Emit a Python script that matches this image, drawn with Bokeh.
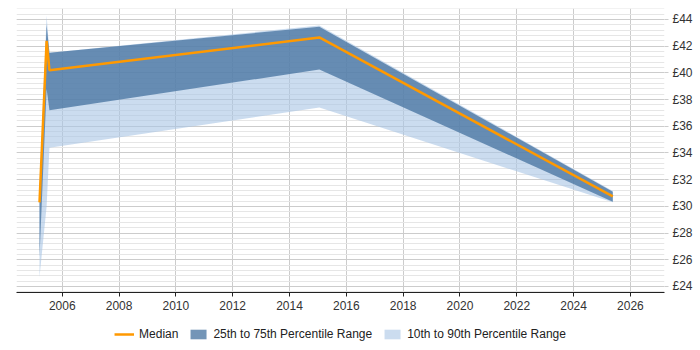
from bokeh.plotting import figure
from bokeh.layouts import column
from bokeh.models import (ColumnDataSource, FixedTicker, PrintfTickFormatter,
                          Legend, LegendItem, Range1d)
from bokeh.embed import file_html
from bokeh.resources import INLINE
import numpy as np

# Hourly rate percentiles over time (decimal years)
dates = [2005.20, 2005.45, 2005.55, 2015.05, 2025.38]
p10 = [24.7, 30.0, 34.4, 37.4, 30.30]
p25 = [26.2, 38.8, 37.2, 40.25, 30.35]
median = [30.3, 42.4, 40.2, 42.65, 30.75]
p75 = [31.0, 43.6, 41.5, 43.45, 31.10]
p90 = [31.5, 44.3, 41.5, 43.55, 31.15]

year_ticks = list(range(2006, 2027, 2))
rate_ticks = list(range(24, 45, 2))

FONT = "Liberation Sans"
MED_STYLE = dict(line_color="#ff9900", line_width=2.5)
IQR_STYLE = dict(fill_color="#44719f", fill_alpha=0.75)
P1090_STYLE = dict(fill_color="#a8c4e4", fill_alpha=0.6)

src = ColumnDataSource(dict(x=dates, p10=p10, p25=p25, med=median, p75=p75, p90=p90))

p = figure(width=700, height=318, output_backend="svg", toolbar_location=None,
           x_range=Range1d(2004.39, 2027.2), y_range=Range1d(23.55, 44.82),
           y_axis_location="right")
p.min_border_left = 16
p.min_border_top = 8
p.min_border_right = 36
p.min_border_bottom = 26
p.outline_line_color = None
p.background_fill_color = "white"

p.varea(x="x", y1="p10", y2="p90", source=src, **P1090_STYLE)
p.varea(x="x", y1="p25", y2="p75", source=src, **IQR_STYLE)
p.line(x="x", y="med", source=src, **MED_STYLE)

# axes
xa = p.xaxis[0]
xa.ticker = FixedTicker(ticks=year_ticks)
xa.axis_line_color = "#222222"
xa.major_tick_line_color = "#222222"
xa.major_tick_out = 4
xa.major_tick_in = 0
xa.minor_tick_line_color = None
xa.major_label_text_font = FONT
xa.major_label_text_font_size = "12px"
xa.major_label_text_color = "#333333"
xa.major_label_standoff = 4

minor = [round(v, 2) for v in np.arange(23.6, 44.81, 0.4)]
ya = p.yaxis[0]
ya.ticker = FixedTicker(ticks=rate_ticks, minor_ticks=minor)
ya.formatter = PrintfTickFormatter(format="£%d")
ya.axis_line_color = None
ya.major_tick_line_color = "#cccccc"
ya.major_tick_out = 4
ya.major_tick_in = 0
ya.minor_tick_line_color = None
ya.major_label_text_font = FONT
ya.major_label_text_font_size = "12px"
ya.major_label_text_color = "#333333"
ya.major_label_standoff = 4

p.xgrid.ticker = FixedTicker(ticks=year_ticks)
p.xgrid.grid_line_color = "#cccccc"
p.ygrid.grid_line_color = "#cccccc"
p.ygrid.minor_grid_line_color = "#e6e6e6"

# legend strip under the chart; its key glyphs lie outside the strip's ranges
lg = figure(width=700, height=32, output_backend="svg", toolbar_location=None,
            x_range=Range1d(0, 1), y_range=Range1d(0, 1))
lg.axis.visible = False
lg.grid.visible = False
lg.outline_line_color = None
lg.min_border_left = 0
lg.min_border_right = 18
lg.min_border_top = 0
lg.min_border_bottom = 0
offscreen = ColumnDataSource(dict(x=[5, 6], y1=[5, 5], y2=[6, 6]))
k_med = lg.line(x="x", y="y1", source=offscreen, **MED_STYLE)
k_iqr = lg.varea(x="x", y1="y1", y2="y2", source=offscreen, **IQR_STYLE)
k_out = lg.varea(x="x", y1="y1", y2="y2", source=offscreen, **P1090_STYLE)

legend = Legend(items=[
    LegendItem(label="Median", renderers=[k_med]),
    LegendItem(label="25th to 75th Percentile Range", renderers=[k_iqr]),
    LegendItem(label="10th to 90th Percentile Range", renderers=[k_out]),
], orientation="horizontal", location="center")
legend.label_text_font = FONT
legend.label_text_font_size = "12px"
legend.label_text_color = "#222222"
legend.border_line_color = None
legend.background_fill_alpha = 0
legend.glyph_width = 20
legend.glyph_height = 12
legend.label_standoff = 5
legend.spacing = 10
legend.padding = 4
legend.margin = 0
lg.add_layout(legend, "center")

page = column(p, lg, spacing=0)
open("out.html", "w").write(file_html(page, INLINE))
